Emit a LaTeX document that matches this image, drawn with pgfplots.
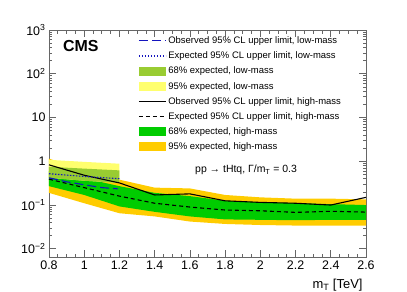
\documentclass[border=0pt]{standalone}
\usepackage{fontspec}
\setmainfont{Liberation Sans}
\usepackage{pgfplots}
\pgfplotsset{compat=1.18}

\definecolor{band95}{RGB}{255,204,0}
\definecolor{band68}{RGB}{0,204,0}
\definecolor{lband95}{RGB}{255,255,110}
\definecolor{lband68}{RGB}{153,204,50}
\definecolor{lblue}{RGB}{20,20,190}

\pgfplotsset{
  leglineimg/.style={legend image code/.code={\draw[##1] (0bp,0bp) -- (27bp,0bp);}},
  legareaimg/.style={legend image code/.code={\fill[##1] (0bp,-4.5bp) rectangle (27bp,4.5bp);}},
}

\begin{document}
\begin{tikzpicture}
\useasboundingbox (-49bp,-35bp) rectangle (358bp,257bp);
\begin{axis}[
  scale only axis, width=317bp, height=227bp,
  xmin=0.8, xmax=2.6, ymode=log, ymin=0.0065, ymax=1000,
  xtick={0.8,1,1.2,1.4,1.6,1.8,2,2.2,2.4,2.6},
  xticklabels={0.8,1,1.2,1.4,1.6,1.8,2,2.2,2.4,2.6},
  minor x tick num=3,
  ytick={0.01,0.1,1,10,100,1000},
  yticklabels={10\textsuperscript{−2},10\textsuperscript{−1},1,10,10\textsuperscript{2},10\textsuperscript{3}},
  /pgf/number format/assume math mode=true,
  tick label style={font=\fontsize{12.5}{14}\selectfont},
  major tick length=7bp, minor tick length=3.5bp,
  axis line style={black!60, line width=0.9bp},
  tick style={black!60, line width=0.7bp},
  xlabel={m\textsubscript{T} [TeV]},
  xlabel style={font=\fontsize{13}{15}\selectfont, at={(rel axis cs:1,0)}, anchor=base east, yshift=-31bp},
  legend style={at={(rel axis cs:0.281,0.98)}, anchor=north west, draw=none, fill=none,
    font=\fontsize{9.5}{11}\selectfont, row sep=2.8bp, inner sep=0pt, cells={anchor=west}},
  legend cell align=left,
]
% high-mass 95%
\addplot[fill=band95, draw=none, forget plot] coordinates {
 (0.8,1.15) (1.0,0.62) (1.2,0.38) (1.4,0.25) (1.6,0.24) (1.8,0.17) (2.0,0.15) (2.2,0.14) (2.4,0.14) (2.6,0.135)
 (2.6,0.034) (2.4,0.034) (2.2,0.034) (2.0,0.035) (1.8,0.037) (1.6,0.042) (1.4,0.055) (1.2,0.065) (1.0,0.11) (0.8,0.19)
} -- cycle;
% high-mass 68%
\addplot[fill=band68, draw=none, forget plot] coordinates {
 (0.8,0.60) (1.0,0.41) (1.2,0.27) (1.4,0.19) (1.6,0.16) (1.8,0.125) (2.0,0.115) (2.2,0.11) (2.4,0.105) (2.6,0.10)
 (2.6,0.046) (2.4,0.046) (2.2,0.045) (2.0,0.046) (1.8,0.047) (1.6,0.055) (1.4,0.07) (1.2,0.093) (1.0,0.17) (0.8,0.27)
} -- cycle;
% low-mass 95%
\addplot[fill=lband95, draw=none, forget plot] coordinates {
 (0.8,1.08) (1.0,0.97) (1.2,0.88) (1.2,0.32) (1.0,0.36) (0.8,0.42)
} -- cycle;
% low-mass 68%
\addplot[fill=lband68, draw=none, forget plot] coordinates {
 (0.8,0.75) (1.0,0.68) (1.2,0.62) (1.2,0.32) (1.0,0.36) (0.8,0.42)
} -- cycle;
% high-mass expected
\addplot[black, line width=1.1bp, dash pattern=on 4bp off 3bp, forget plot] coordinates {
 (0.8,0.39) (1.0,0.25) (1.2,0.16) (1.4,0.11) (1.6,0.09) (1.8,0.077) (2.0,0.074) (2.2,0.068) (2.4,0.072) (2.6,0.069)
};
% high-mass observed
\addplot[black, line width=1.1bp, forget plot] coordinates {
 (0.8,0.83) (1.0,0.48) (1.2,0.32) (1.4,0.17) (1.6,0.18) (1.8,0.125) (2.0,0.115) (2.2,0.11) (2.4,0.10) (2.6,0.15)
};
% low-mass expected
\addplot[lblue, line width=1.1bp, dash pattern=on 1.5bp off 1.5bp, forget plot] coordinates {
 (0.8,0.52) (1.0,0.45) (1.2,0.40)
};
% low-mass observed
\addplot[lblue, line width=1.1bp, dash pattern=on 9bp off 4bp, forget plot] coordinates {
 (0.8,0.42) (0.9,0.34) (1.0,0.29) (1.1,0.25) (1.19,0.235)
};

\addlegendimage{leglineimg, lblue, line width=1.1bp, dash pattern=on 9bp off 4bp}
\addlegendentry{Observed 95\% CL upper limit, low-mass}
\addlegendimage{leglineimg, lblue, line width=1.1bp, dash pattern=on 1.5bp off 1.5bp}
\addlegendentry{Expected 95\% CL upper limit, low-mass}
\addlegendimage{legareaimg, fill=lband68, draw=none}
\addlegendentry{68\% expected, low-mass}
\addlegendimage{legareaimg, fill=lband95, draw=none}
\addlegendentry{95\% expected, low-mass}
\addlegendimage{leglineimg, black, line width=1.1bp}
\addlegendentry{Observed 95\% CL upper limit, high-mass}
\addlegendimage{leglineimg, black, line width=1.1bp, dash pattern=on 4bp off 3bp}
\addlegendentry{Expected 95\% CL upper limit, high-mass}
\addlegendimage{legareaimg, fill=band68, draw=none}
\addlegendentry{68\% expected, high-mass}
\addlegendimage{legareaimg, fill=band95, draw=none}
\addlegendentry{95\% expected, high-mass}

\node[anchor=base west, font=\fontsize{16}{18}\selectfont\bfseries, inner sep=0pt] at ([xshift=14bp,yshift=-21.7bp]rel axis cs:0,1) {CMS};
\node[anchor=base east, font=\fontsize{10.5}{12}\selectfont, inner sep=0pt] at ([xshift=-4bp,yshift=6bp]rel axis cs:1,1) {35.9 fb\textsuperscript{-1} (13 TeV)};
\node[anchor=base west, font=\fontsize{10.5}{12}\selectfont, inner sep=0pt] at ([xshift=146bp,yshift=84.3bp]rel axis cs:0,0) {pp → tHtq, Γ/m\textsubscript{T} = 0.3};
\node[rotate=90, anchor=south east, font=\fontsize{13.5}{15}\selectfont, inner sep=0pt] at ([xshift=-28bp]rel axis cs:0,1) {σ(pp → tHtq) [pb]};
\end{axis}
\end{tikzpicture}
\end{document}
